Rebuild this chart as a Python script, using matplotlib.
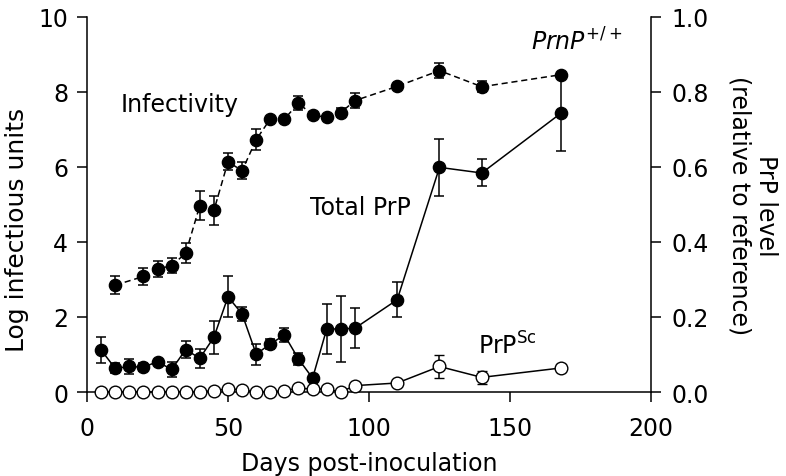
import matplotlib
matplotlib.use("Agg")
import matplotlib.pyplot as plt

plt.rcParams['font.family'] = ['DejaVu Sans']
plt.rcParams['mathtext.fontset'] = 'dejavusans'

# Infectivity (log infectious units, left axis)
inf_days = [10, 20, 25, 30, 35, 40, 45, 50, 55, 60, 65, 70, 75, 80, 85, 90, 95, 110, 125, 140, 168]
inf_vals = [2.85, 3.08, 3.28, 3.37, 3.70, 4.97, 4.84, 6.14, 5.90, 6.73, 7.28, 7.28, 7.70, 7.39, 7.32, 7.45, 7.77, 8.15, 8.57, 8.14, 8.46]
inf_err = [0.24, 0.23, 0.21, 0.20, 0.26, 0.38, 0.38, 0.22, 0.22, 0.27, 0.0, 0.0, 0.18, 0.0, 0.0, 0.12, 0.20, 0.0, 0.21, 0.15, 0.0]

# Total PrP (right axis)
prp_days = [5, 10, 15, 20, 25, 30, 35, 40, 45, 50, 55, 60, 65, 70, 75, 80, 85, 90, 95, 110, 125, 140, 168]
prp_vals = [0.112, 0.063, 0.068, 0.066, 0.081, 0.060, 0.113, 0.090, 0.146, 0.254, 0.208, 0.101, 0.128, 0.152, 0.088, 0.037, 0.168, 0.168, 0.170, 0.246, 0.599, 0.584, 0.743]
prp_err = [0.035, 0.013, 0.020, 0.010, 0.0, 0.020, 0.023, 0.025, 0.044, 0.055, 0.018, 0.028, 0.014, 0.019, 0.015, 0.0, 0.067, 0.087, 0.054, 0.047, 0.076, 0.036, 0.100]

# PrPSc (right axis)
sc_days = [5, 10, 15, 20, 25, 30, 35, 40, 45, 50, 55, 60, 65, 70, 75, 80, 85, 90, 95, 110, 125, 140, 168]
sc_vals = [0, 0, 0, 0, 0, 0, 0, 0, 0.004, 0.008, 0.006, 0, 0, 0.004, 0.010, 0.008, 0.008, 0, 0.017, 0.024, 0.068, 0.039, 0.064]
sc_err = [0]*18 + [0, 0, 0.030, 0.018, 0.010]

fig = plt.figure(figsize=(7.86, 4.77), dpi=100)
ax = fig.add_axes([0.1107, 0.1761, 0.7175, 0.7862])
ax2 = ax.twinx()

lw = 1.1
ms = 8.8
cap = 3.8
fs = 17

ax.errorbar(inf_days, inf_vals, yerr=inf_err, fmt='o', color='black', ms=ms,
            ls=(0, (4, 2.5)), lw=lw, elinewidth=lw, capsize=cap, capthick=lw, clip_on=False, zorder=3)

ax2.errorbar(prp_days, prp_vals, yerr=prp_err, fmt='o-', color='black', ms=ms,
             lw=lw, elinewidth=lw, capsize=cap, capthick=lw, clip_on=False, zorder=3)
ax2.errorbar(sc_days, sc_vals, yerr=sc_err, fmt='o-', color='black', mfc='white', mec='black',
             mew=1.0, ms=ms + 0.3, lw=lw, elinewidth=lw, capsize=cap, capthick=lw, clip_on=False, zorder=4)

ax.set_xlim(0, 200)
ax.set_ylim(0, 10)
ax2.set_ylim(0, 1.0)
ax.set_xticks([0, 50, 100, 150, 200])
ax.set_yticks([0, 2, 4, 6, 8, 10])
ax2.set_yticks([0.0, 0.2, 0.4, 0.6, 0.8, 1.0])
ax2.set_yticklabels(['0.0', '0.2', '0.4', '0.6', '0.8', '1.0'])

for a in (ax, ax2):
    a.spines['top'].set_visible(False)
    for s in a.spines.values():
        s.set_linewidth(1.1)
    a.tick_params(direction='out', length=7.5, width=1.1, labelsize=fs)
ax.tick_params(axis='x', pad=10)
ax.tick_params(axis='y', pad=6)
ax2.tick_params(axis='y', pad=7)
ax.spines['right'].set_visible(False)
ax2.spines['left'].set_visible(False)
ax2.spines['bottom'].set_visible(False)

ax.set_xlabel('Days post-inoculation', fontsize=fs, labelpad=8)
ax.set_ylabel('Log infectious units', fontsize=18)
ax.yaxis.set_label_coords(-0.102, 0.435)
ax2.set_ylabel('PrP level\n(relative to reference)', fontsize=fs, rotation=270,
               labelpad=50, linespacing=1.15)

ax.text(33, 7.68, 'Infectivity', fontsize=fs, ha='center', va='center')
ax.text(96.8, 4.93, 'Total PrP', fontsize=fs, ha='center', va='center')
ax.text(157.5, 9.35, r'$\mathit{PrnP}^{+/+}$', fontsize=fs, ha='left', va='center')
ax.text(138.7, 1.25, r'PrP$^{\mathrm{Sc}}$', fontsize=fs, ha='left', va='center')

fig.savefig('out.png', dpi=100)
